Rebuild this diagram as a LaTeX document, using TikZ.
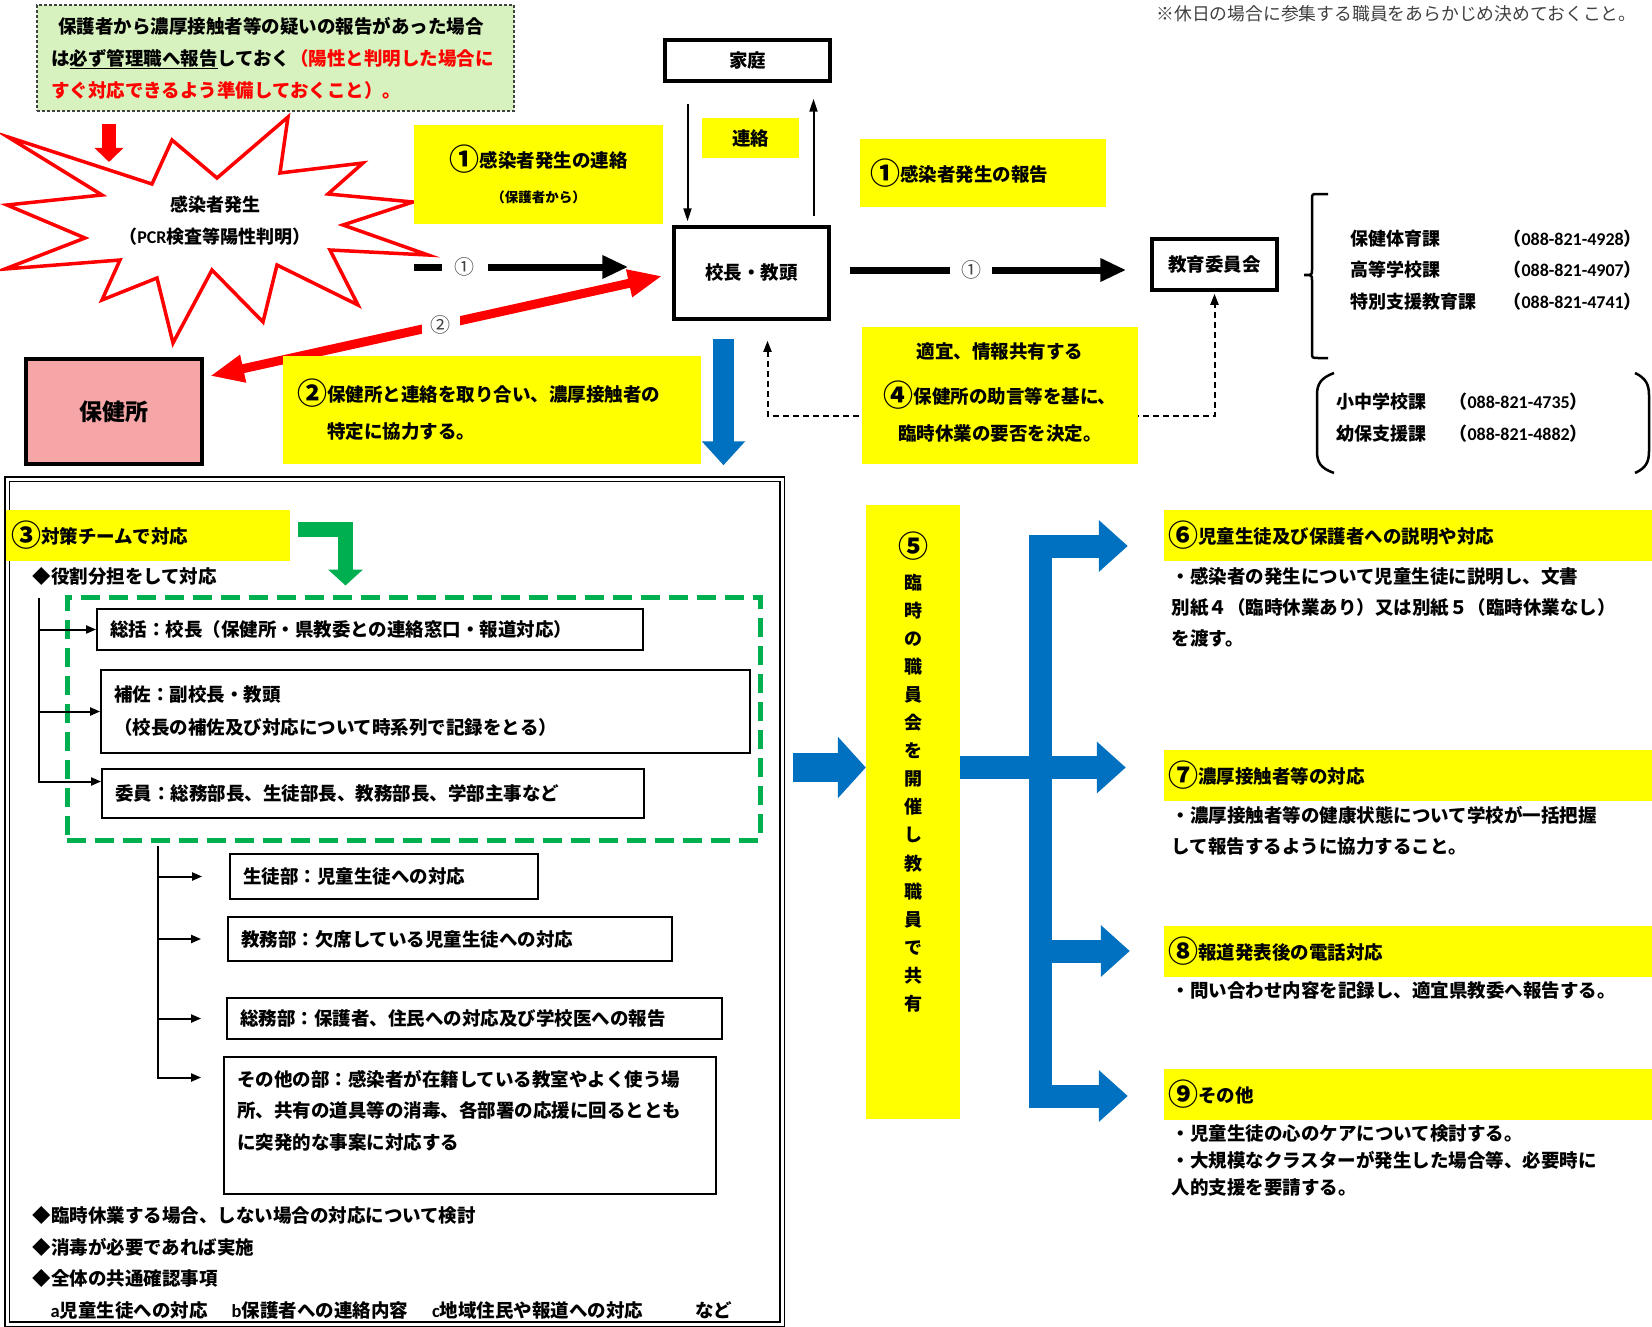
\documentclass[tikz,border=0pt]{standalone}
\usepackage{fontspec}
\setmainfont{Noto Sans CJK JP}
\newfontfamily\calib{Carlito}
\usetikzlibrary{arrows.meta}

\definecolor{hlyellow}{RGB}{255,255,0}
\definecolor{flowblue}{RGB}{0,112,192}
\definecolor{teamgreen}{RGB}{0,176,80}
\definecolor{notegreen}{RGB}{215,242,190}
\definecolor{hcpink}{RGB}{246,166,166}
\definecolor{txtgray}{RGB}{64,64,64}

\newcommand\bignum[1]{\raisebox{-3pt}{\fontsize{30}{30}\selectfont #1}}

\tikzset{
  body/.style={font=\fontsize{18.5}{31}\selectfont\bfseries},
  heavybox/.style={draw, line width=3.5pt, fill=white, inner sep=0pt, body},
  ybox/.style={fill=hlyellow, inner sep=0pt, body},
  headbar/.style={ybox, minimum width=488pt, minimum height=51pt, text width=480pt, inner xsep=4pt, align=left},
  rolebox/.style={draw, line width=1.8pt, fill=white, inner xsep=13pt, inner ysep=0pt, align=left, body},
  tag/.style={fill=white, text=txtgray, inner ysep=1pt, font=\fontsize{20}{22}\selectfont},
  flowarrow/.style={line width=7pt, -{Triangle[width=22pt,length=26pt]}},
  redarrow/.style={draw=red, line width=9pt, {Triangle[width=26pt,length=34pt]}-{Triangle[width=26pt,length=34pt]}},
  thinarrow/.style={line width=2pt, -{Triangle[width=8pt,length=13pt]}},
  dashline/.style={line width=2pt, dash pattern=on 6pt off 4pt, {Triangle[width=8pt,length=11pt]}-{Triangle[width=8pt,length=11pt]}},
  bluearrow/.style={draw=flowblue, line width=21pt, -{Triangle[width=42pt,length=24pt]}},
  bluebranch/.style={draw=flowblue, line width=23pt},
  bluetip/.style={-{Triangle[width=50pt,length=29pt]}},
  treeline/.style={line width=2pt, -{Triangle[width=8pt,length=10pt]}},
  bracket/.style={line width=2.5pt},
}

\begin{document}
\begin{tikzpicture}[x=1pt,y=-1pt]
\useasboundingbox (0,0) rectangle (1652,1327);

\node[draw=txtgray, dash pattern=on 3pt off 2pt, line width=1.3pt, fill=notegreen, text width=449pt, inner xsep=14pt, minimum height=106pt, align=left, font=\fontsize{18.5}{32}\selectfont\bfseries] (note) at (275.5,58) {\hspace{7pt}保護者から濃厚接触者等の疑いの報告があった場合\\は\underline{必ず管理職へ報告}しておく\textcolor{red}{（陽性と判明した場合に}\\\textcolor{red}{すぐ対応できるよう準備しておくこと）。}};
\node[anchor=east, text=txtgray, font=\fontsize{17.8}{20}\selectfont] (memo) at (1640,14) {※休日の場合に参集する職員をあらかじめ決めておくこと。};

\draw[draw=red, line width=3.5pt, fill=white] (8,137) -- (152,184) -- (172,140) -- (217,178) -- (288,117) -- (280,173) -- (363,163) -- (328,194) -- (413,202) -- (343,225) -- (428,255) -- (330,250) -- (358,305) -- (277,265) -- (263,322) -- (212,270) -- (173,343) -- (157,278) -- (102,300) -- (120,260) -- (5,269) -- (85,238) -- (7,205) -- (102,195) -- cycle;
\node[align=center, font=\fontsize{18}{32}\selectfont\bfseries] (burst) at (215,221) {感染者発生\\（{\calib PCR}検査等陽性判明）};
\coordinate (burstTip) at (109,162);
\coordinate (burstR) at (414,267);
\draw[draw=red, line width=14pt, -{Triangle[width=28pt,length=14pt]}, shorten <=12pt] (note.south -| burstTip) -- (burstTip);

\node[heavybox, minimum width=165pt, minimum height=41pt] (home) at (747.5,60.5) {家庭};
\node[heavybox, minimum width=155pt, minimum height=92pt] (head) at (751.5,273) {校長・教頭};
\node[heavybox, minimum width=125pt, minimum height=51pt] (board) at (1214.5,264.5) {教育委員会};
\node[heavybox, fill=hcpink, line width=4pt, minimum width=176pt, minimum height=105pt, font=\fontsize{23}{26}\selectfont\bfseries] (health) at (114,411.5) {保健所};

\node[ybox, minimum width=97pt, minimum height=40pt] (renraku) at (750.5,138) {連絡};
\node[ybox, minimum width=249pt, minimum height=99pt, align=center] (call) at (538.5,174.5) {\bignum{①}感染者発生の連絡\\[4pt]{\fontsize{13.5}{16}\selectfont（保護者から）}};
\node[ybox, minimum width=246pt, minimum height=68pt, text width=226pt, inner xsep=10pt, align=left] (report) at (983,173) {\bignum{①}感染者発生の報告};

\draw[thinarrow, shorten <=21pt, shorten >=4pt] ([xshift=-60pt]home.south) -- ([xshift=-60pt]home.south |- head.north);
\draw[thinarrow, shorten <=9pt, shorten >=16pt] ([xshift=62pt]head.north) -- ([xshift=62pt]head.north |- home.south);

\draw[flowarrow, shorten >=44pt] (burstR) -- ([yshift=6pt]head.west) node[pos=.196, tag, inner xsep=13pt] {①};
\draw[flowarrow, shorten <=19pt, shorten >=24pt] ([yshift=3pt]head.east) -- ([yshift=3pt]head.east -| board.west) node[pos=.44, tag, inner xsep=11pt] {①};
\draw[redarrow] ([xshift=6pt,yshift=-19pt]health.north east) -- ([xshift=-10pt,yshift=-3pt]head.west) node[pos=.51, tag, inner xsep=9pt, inner ysep=4pt] {②};

\coordinate (dashY) at (1000,416);
\draw[dashline, shorten <=20pt, shorten >=2pt] ([xshift=16pt]head.south) |- (dashY) -| (board.south);
\node[ybox, minimum width=418pt, minimum height=108pt, text width=390pt, inner xsep=14pt, align=left] (coop) at (492,410) {\bignum{②}保健所と連絡を取り合い、濃厚接触者の\\[6pt]\hspace{30pt}特定に協力する。};
\node[ybox, minimum width=276pt, minimum height=137pt, align=center] (decide) at (1000,395.5) {適宜、情報共有する\\[14pt]\bignum{④}保健所の助言等を基に、\\[6pt]臨時休業の要否を決定。\\[-23pt]\mbox{}};

\draw[bracket] (1328,194) -- (1318,194) .. controls (1312,194) .. (1312,200) -- (1312,270) .. controls (1312,275) .. (1304,275) .. controls (1312,275) .. (1312,280) -- (1312,352) .. controls (1312,358) .. (1318,358) -- (1328,358);
\draw[bracket] (1334,373) .. controls (1320,378) and (1317,385) .. (1317,395) -- (1317,451) .. controls (1317,462) and (1320,468) .. (1334,473);
\draw[bracket] (1635,373) .. controls (1646,378) and (1649,385) .. (1649,395) -- (1649,451) .. controls (1649,462) and (1646,468) .. (1635,473);
\node[anchor=west, align=left, font=\fontsize{18}{31.5}\selectfont\bfseries] (sec1) at (1347,270) {保健体育課\\高等学校課\\特別支援教育課};
\node[anchor=west, align=left, font=\fontsize{18}{31.5}\selectfont\bfseries] (tel1) at (1500,270) {（{\calib 088-821-4928}）\\（{\calib 088-821-4907}）\\（{\calib 088-821-4741}）};
\node[anchor=west, align=left, font=\fontsize{18}{32}\selectfont\bfseries] (sec2) at (1333,418) {小中学校課\\幼保支援課};
\node[anchor=west, align=left, font=\fontsize{18}{32}\selectfont\bfseries] (tel2) at (1446,418) {（{\calib 088-821-4735}）\\（{\calib 088-821-4882}）};

\node[draw, double, double distance=3pt, line width=1.5pt, minimum width=775pt, minimum height=845pt, inner sep=0pt] (team) at (394.5,901.5) {};
\draw[bluearrow, shorten <=18pt, shorten >=13pt] ([xshift=-28pt]head.south) -- ([xshift=-28pt]head.south |- team.north);
\node[ybox, minimum width=284pt, minimum height=51pt, text width=274pt, inner xsep=5pt, align=left] (teamhd) at (148,535.5) {\bignum{③}対策チームで対応};
\node[anchor=west, body] (roles) at (29,576) {◆役割分担をして対応};
\node[draw=teamgreen, line width=5pt, dash pattern=on 19pt off 9pt, minimum width=693pt, minimum height=243pt] (crew) at (413.5,718.5) {};
\draw[draw=teamgreen, line width=15pt, -{Triangle[width=34pt,length=16pt]}] ([xshift=8pt,yshift=6pt]teamhd.east) -| ([xshift=-68pt,yshift=9pt]crew.north);

\node[rolebox, text width=520pt, minimum height=41pt] (chief) at (370,629.5) {総括：校長（保健所・県教委との連絡窓口・報道対応）};
\node[rolebox, text width=623pt, minimum height=83pt] (aide) at (425.5,711.5) {補佐：副校長・教頭\\[2pt]（校長の補佐及び対応について時系列で記録をとる）};
\node[rolebox, text width=516pt, minimum height=49pt] (member) at (373,793.5) {委員：総務部長、生徒部長、教務部長、学部主事など};
\node[rolebox, text width=282pt, minimum height=45pt] (pupil) at (384,876.5) {生徒部：児童生徒への対応};
\node[rolebox, text width=418pt, minimum height=44pt] (affairs) at (450,939) {教務部：欠席している児童生徒への対応};
\node[rolebox, text width=469pt, minimum height=41pt] (general) at (474.5,1018.5) {総務部：保護者、住民への対応及び学校医への報告};
\node[rolebox, text width=466pt, minimum height=137pt, font=\fontsize{18.5}{31.5}\selectfont\bfseries] (others) at (470,1125.5) {その他の部：感染者が在籍している教室やよく使う場\\所、共有の道具等の消毒、各部署の応援に回るととも\\に突発的な事案に対応する\\\mbox{}};

\coordinate (trunkA) at (39,598);
\draw[treeline] (trunkA) |- ([yshift=12pt]member.west);
\draw[treeline] (trunkA |- chief.west) -- (chief.west);
\draw[treeline] (trunkA |- aide.west) -- (aide.west);
\coordinate (trunkB) at (158,846);
\draw[treeline, shorten >=22pt] (trunkB) |- ([yshift=48pt]others.west);
\draw[treeline, shorten >=27pt] (trunkB |- pupil.west) -- (pupil.west);
\draw[treeline, shorten >=26pt] (trunkB |- affairs.west) -- (affairs.west);
\draw[treeline, shorten >=25pt] (trunkB |- general.west) -- (general.west);

\node[anchor=west, align=left, font=\fontsize{18.5}{31.5}\selectfont\bfseries] (notes) at (29,1263) {◆臨時休業する場合、しない場合の対応について検討\\◆消毒が必要であれば実施\\◆全体の共通確認事項\\\hspace{18pt}{\calib a}児童生徒への対応\hspace{24pt}{\calib b}保護者への連絡内容\hspace{24pt}{\calib c}地域住民や報道への対応\hspace{52pt}など};

\node[ybox, minimum width=94pt, minimum height=614pt] (meetbox) at (913,812) {};
\node[font=\fontsize{30}{30}\selectfont\bfseries] (meetnum) at (913,546) {⑤};
\node[align=center, font=\fontsize{18}{28.1}\selectfont\bfseries] (meettxt) at (913,793) {臨\\時\\の\\職\\員\\会\\を\\開\\催\\し\\教\\職\\員\\で\\共\\有};
\coordinate (shareY) at (0,767.5);
\draw[bluearrow, line width=29pt, -{Triangle[width=60pt,length=28pt]}, shorten <=10pt] (team.east |- shareY) -- (meetbox.west |- shareY);

\node[headbar] (h6) at (1408,535.5) {\bignum{⑥}児童生徒及び保護者への説明や対応};
\node[headbar] (h7) at (1408,775.5) {\bignum{⑦}濃厚接触者等の対応};
\node[headbar] (h8) at (1408,951) {\bignum{⑧}報道発表後の電話対応};
\node[headbar] (h9) at (1408,1094.5) {\bignum{⑨}その他};

\coordinate (forkTop) at (1040.5,546);
\coordinate (forkBot) at (1040.5,1096);
\draw[bluebranch, {Triangle[width=50pt,length=29pt]}-{Triangle[width=50pt,length=29pt]}] ([xshift=-36pt]h6.west |- forkTop) -- (forkTop) -- (forkBot) -- ([xshift=-36pt]h9.west |- forkBot);
\draw[bluebranch, bluetip] (meetbox.east |- shareY) -- ([xshift=-38pt]h7.west |- shareY);
\draw[bluebranch, bluetip] (forkTop |- h8.west) -- ([xshift=-34pt]h8.west);

\node[anchor=west, align=left, body] (t6) at (1168,607) {・感染者の発生について児童生徒に説明し、文書\\別紙４（臨時休業あり）又は別紙５（臨時休業なし）\\を渡す。};
\node[anchor=west, align=left, body] (t7) at (1168,830.5) {・濃厚接触者等の健康状態について学校が一括把握\\して報告するように協力すること。};
\node[anchor=west, align=left, body] (t8) at (1168,990) {・問い合わせ内容を記録し、適宜県教委へ報告する。};
\node[anchor=west, align=left, font=\fontsize{18.5}{27}\selectfont\bfseries] (t9) at (1168,1161) {・児童生徒の心のケアについて検討する。\\・大規模なクラスターが発生した場合等、必要時に\\人的支援を要請する。};
\end{tikzpicture}
\end{document}
